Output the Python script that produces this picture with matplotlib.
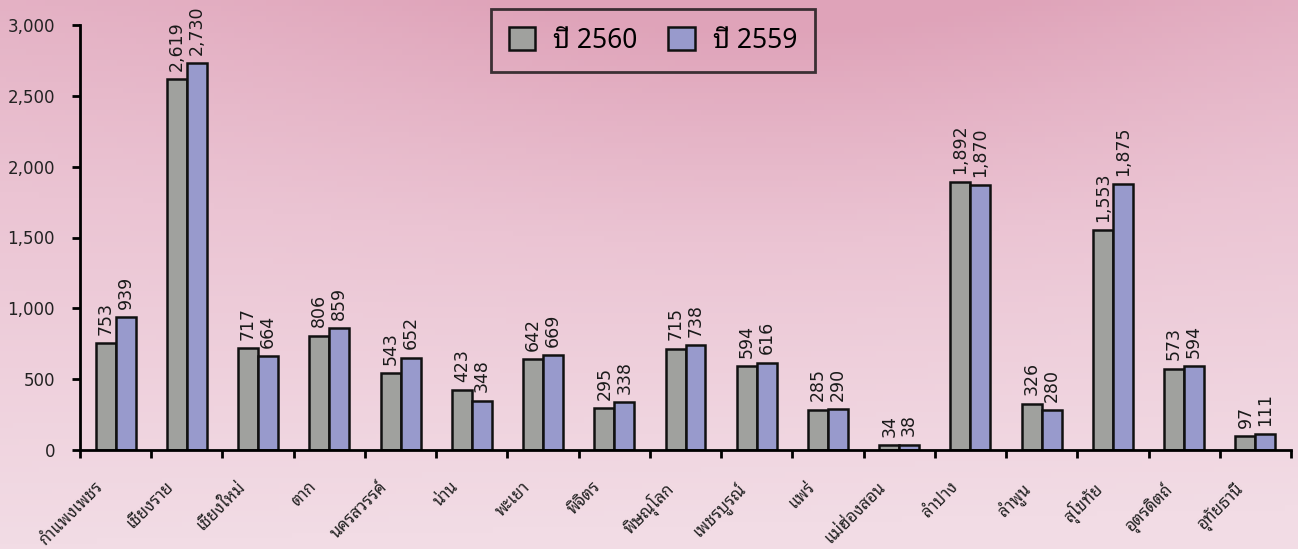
import matplotlib
matplotlib.use("Agg")
import matplotlib.pyplot as plt
import numpy as np
from matplotlib.colors import LinearSegmentedColormap

# ข้อมูล
provinces = ["กำแพงเพชร", "เชียงราย", "เชียงใหม่", "ตาก", "นครสวรรค์", "น่าน", "พะเยา",
             "พิจิตร", "พิษณุโลก", "เพชรบูรณ์", "แพร่", "แม่ฮ่องสอน", "ลำปาง", "ลำพูน",
             "สุโขทัย", "อุตรดิตถ์", "อุทัยธานี"]
y2560 = [753, 2619, 717, 806, 543, 423, 642, 295, 715, 594, 285, 34, 1892, 326, 1553, 573, 97]
y2559 = [939, 2730, 664, 859, 652, 348, 669, 338, 738, 616, 290, 38, 1870, 280, 1875, 594, 111]
series_names = ["ปี 2560", "ปี 2559"]
yticks = [0, 500, 1000, 1500, 2000, 2500, 3000]

thai = ["Noto Sans Thai Looped", "DejaVu Sans"]
c_gray = "#a0a19e"
c_blue = "#989acc"

fig = plt.figure(figsize=(12.98, 5.49), dpi=100)

# พื้นหลังไล่สีชมพู
bg = fig.add_axes([0, 0, 1, 1], zorder=-10)
bg.axis("off")
xx, yy = np.meshgrid(np.linspace(0, 1, 200), np.linspace(0, 1, 100))
g = np.clip(0.75 * yy + 0.35 * np.exp(-((xx - 0.6) ** 2) / 0.15) * yy ** 2 - 0.05 * xx, 0, 1)
cmap = LinearSegmentedColormap.from_list("pink", ["#f2dce5", "#ebc4d3", "#dfa3b9"])
bg.imshow(g, cmap=cmap, origin="lower", aspect="auto", extent=[0, 1, 0, 1])

ax = fig.add_axes([80 / 1298, 1 - 450 / 549, 1211 / 1298, 425 / 549])
ax.set_facecolor("none")

x = np.arange(len(provinces))
w = 0.28
b1 = ax.bar(x - w / 2, y2560, w, color=c_gray, edgecolor="#111111", linewidth=1.8, label=series_names[0])
b2 = ax.bar(x + w / 2, y2559, w, color=c_blue, edgecolor="#111111", linewidth=1.8, label=series_names[1])

for bars, vals in [(b1, y2560), (b2, y2559)]:
    for b, v in zip(bars, vals):
        ax.annotate(f"{v:,}", (b.get_x() + b.get_width() / 2, v), xytext=(0, 6),
                    textcoords="offset points", rotation=90, ha="center", va="bottom",
                    fontsize=12.5, family="DejaVu Sans", color="#1a1a1a")

ax.set_xlim(-0.5, len(provinces) - 0.5)
ax.set_ylim(0, 3000)
ax.set_yticks(yticks)
ax.set_yticklabels([f"{t:,}" for t in yticks], fontsize=12, color="#222222")

# ขีดแบ่งกลุ่ม + ชื่อจังหวัดเอียง 45 องศา
ax.set_xticks(np.arange(len(provinces) + 1) - 0.5)
ax.set_xticklabels([])
for i, name in enumerate(provinces):
    ax.annotate(name, (i, 0), xycoords=("data", "axes fraction"), xytext=(-21, -29),
                textcoords="offset pixels", rotation=45, ha="right", va="top",
                rotation_mode="anchor", fontsize=12, family=thai, color="#222222",
                annotation_clip=False)
ax.tick_params(axis="x", which="major", length=6, width=2, direction="out")
ax.tick_params(axis="y", length=6, width=2, direction="out", pad=12)

for s in ["top", "right"]:
    ax.spines[s].set_visible(False)
for s in ["left", "bottom"]:
    ax.spines[s].set_linewidth(2)

leg = fig.legend(handles=[b1, b2], labels=series_names, loc="center",
                 bbox_to_anchor=(653 / 1298, 1 - 40.5 / 549), ncol=2, frameon=True,
                 fancybox=False, edgecolor="#111111", facecolor="none",
                 prop={"family": thai, "size": 19}, handlelength=1.0, handleheight=1.0,
                 columnspacing=1.15, handletextpad=0.7, borderpad=0.65)
leg.get_frame().set_linewidth(2)

fig.savefig("out.png", dpi=100)
